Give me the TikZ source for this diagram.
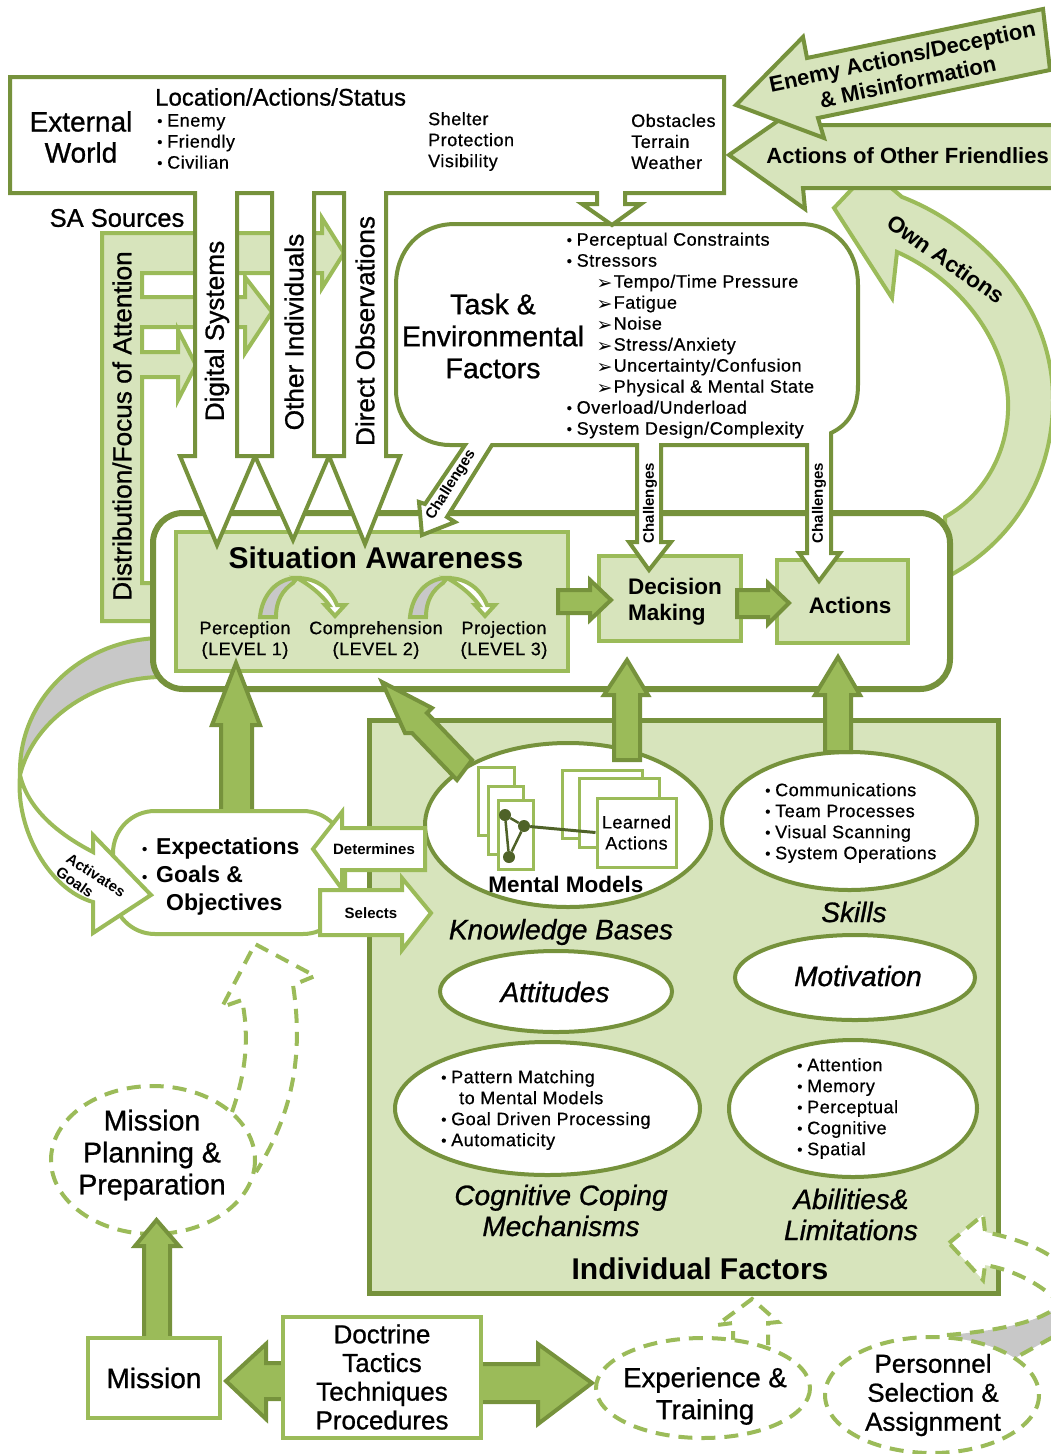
\documentclass[tikz,border=0pt]{standalone}
\usepackage{fontspec}
\setmainfont{Liberation Sans}
\newfontfamily\bodyf[LetterSpace=3,FakeBold=0.6]{Liberation Sans}
\newfontfamily\medf[FakeBold=0.9]{Liberation Sans}
\newfontfamily\djfont{DejaVu Sans}
\definecolor{myDark}{HTML}{76923C}
\definecolor{myLight}{HTML}{9BBB59}
\definecolor{myFill}{HTML}{D7E4BC}
\definecolor{myGray}{HTML}{C8C8C8}
\definecolor{myNode}{HTML}{4F6228}
\newcommand\blt{\makebox[10pt][l]{\smash{\raisebox{0.5pt}{\fontsize{15}{15}\selectfont\textbullet}}}}
\newcommand\arw{\makebox[17pt][l]{\smash{\raisebox{-2pt}{\djfont\fontsize{19}{19}\selectfont ➢}}}}
\tikzset{
  dk/.style={draw=myDark,line width=5pt,miter limit=20},
  dkframe/.style={draw=myDark,line width=6pt},
  dkthin/.style={draw=myDark,line width=4pt,miter limit=20},
  lt/.style={draw=myLight,line width=4pt,miter limit=20},
  ltfill/.style={lt,fill=myFill},
  ltwhite/.style={lt,fill=white},
  solidarrow/.style={dkthin,fill=myLight},
  dashbox/.style={draw=myLight,line width=4pt,dash pattern=on 14pt off 9pt,miter limit=20},
  lbl/.style={inner sep=0pt,align=center},
  body/.style={lbl,font=\bodyf\fontsize{18}{21}\selectfont,align=left},
  smallb/.style={lbl,font=\bfseries\fontsize{15}{17}\selectfont},
  sideb/.style={lbl,font=\medf\fontsize{26.2}{28}\selectfont,rotate=90},
  big/.style={lbl,font=\medf\fontsize{27}{31}\selectfont},
  ital/.style={lbl,font=\itshape\medf\fontsize{28}{31}\selectfont},
  boldm/.style={lbl,font=\bfseries\fontsize{22.5}{26}\selectfont},
  titleb/.style={lbl,font=\bfseries\fontsize{30}{34}\selectfont},
}
\begin{document}
\begin{tikzpicture}[x=1pt,y=-1pt]
\useasboundingbox (0,0) rectangle (1051,1454);
% attention arrow
\path[ltfill] (102,233) -- (322,233) -- (322,218) -- (344,253) -- (322,288) -- (322,273) -- (142,273) -- (142,297) -- (245,297) -- (245,277) -- (272,312) -- (245,353) -- (245,327) -- (142,327) -- (142,352) -- (178,352) -- (178,330) -- (196,365) -- (178,400) -- (178,377) -- (142,377) -- (142,583) -- (156,583) -- (156,621) -- (102,621) -- cycle;
% own actions
\path[ltfill] (945,517) .. controls (985,495) and (1010,450) .. (1008,400) .. controls (1005,340) and (960,280) .. (897,252) -- (892,298) -- (834,208) -- (870,170) -- (902,197) .. controls (975,225) and (1053,300) .. (1053,400) .. controls (1053,480) and (1010,545) .. (945,578) -- cycle;
% other actions
\path[dkthin,fill=myFill] (729,155) -- (805,102) -- (803,125) -- (1056,125) -- (1056,188) -- (803,188) -- (805,209) -- cycle;
\path[dkthin,fill=myFill] (736,105) -- (803,37) -- (807,58) -- (1043,9) -- (1050,70) -- (818,118) -- (824,138) -- cycle;
% goals ribbon, gray part
\path[lt,fill=myGray] (160,638) .. controls (80,640) and (18,700) .. (20,775) .. controls (35,715) and (100,678) .. (160,677) -- cycle;
% SA frame
\path[dkframe,fill=white,rounded corners=30pt] (153,513) rectangle (950,689);
% SA block
\path[ltfill] (176,532) rectangle (568,671);
\path[ltfill] (599,556) rectangle (741,641);
\path[ltfill] (777,560) rectangle (908,643);
% level arrows
\foreach \dx in {0,150}{
  \path[lt,fill=myGray] ([xshift=\dx]260,617) .. controls ([xshift=\dx]262,595) and ([xshift=\dx]277,578) .. ([xshift=\dx]297,578) -- ([xshift=\dx]293,583) .. controls ([xshift=\dx]283,590) and ([xshift=\dx]276,600) .. ([xshift=\dx]276,617) -- cycle;
  \path[lt,fill=white] ([xshift=\dx]297,578) .. controls ([xshift=\dx]318,578) and ([xshift=\dx]331,590) .. ([xshift=\dx]337,605) -- ([xshift=\dx]345,605) -- ([xshift=\dx]335,616) -- ([xshift=\dx]325,605) -- ([xshift=\dx]329,605) .. controls ([xshift=\dx]322,595) and ([xshift=\dx]310,585) .. ([xshift=\dx]297,578) -- cycle;
}
% arrows between blocks
\path[solidarrow] (558,590) -- (590,590) -- (590,580) -- (611,600) -- (590,620) -- (590,613) -- (558,613) -- cycle;
\path[solidarrow] (737,590) -- (768,590) -- (768,583) -- (789,603) -- (768,624) -- (768,617) -- (737,617) -- cycle;
% task box with challenge arrows
\path[dkthin,fill=white] (465,445) -- (450,445) .. controls (418,445) and (396,420) .. (396,390) -- (396,285) .. controls (396,250) and (420,224) .. (455,224) -- (800,224) .. controls (835,224) and (858,250) .. (858,285) -- (858,385) .. controls (858,410) and (848,425) .. (831,433) -- (831,553) -- (840,553) -- (819,581) -- (799,553) -- (807,553) -- (807,445) -- (661,445) -- (661,542) -- (671,542) -- (649,570) -- (629,542) -- (637,542) -- (637,445) -- (492,445) -- (447,517) -- (455,522) -- (422,535) -- (419,502) -- (425,504) -- cycle;
% external world with source arrows
\path[dkthin,fill=white] (10,77) -- (724,77) -- (724,193) -- (625,193) -- (625,204) -- (641,204) -- (612,225) -- (582,204) -- (597,204) -- (597,193) -- (386,193) -- (386,456) -- (400,456) -- (365,544) -- (329,456) -- (344,456) -- (344,193) -- (314,193) -- (314,456) -- (329,456) -- (293,540) -- (255,456) -- (272,456) -- (272,193) -- (237,193) -- (237,456) -- (255,456) -- (217,545) -- (180,456) -- (195,456) -- (195,193) -- (10,193) -- cycle;
% individual factors
\path[dk,fill=myFill] (369,720) rectangle (998,1293);
% ellipses
\path[dkthin,fill=white] (568,825) ellipse [x radius=143,y radius=82];
\path[dkthin,fill=white] (849.5,821) ellipse [x radius=127.5,y radius=69];
\path[dkthin,fill=white] (556,991.5) ellipse [x radius=116,y radius=40.5];
\path[dkthin,fill=white] (855,977.5) ellipse [x radius=120,y radius=42.5];
\path[dkthin,fill=white] (547.5,1108.5) ellipse [x radius=152.5,y radius=66.5];
\path[dkthin,fill=white] (853,1108.5) ellipse [x radius=124,y radius=68.5];
\path[solidarrow] (221,812) -- (221,725) -- (212,725) -- (236,663) -- (260,725) -- (252,725) -- (252,812) -- cycle;
\path[solidarrow] (457,780) -- (412,733) -- (405,733) -- (382,682) -- (432,708) -- (427,713) -- (472,760) -- cycle;
\path[solidarrow] (614,760) -- (614,695) -- (604,695) -- (627,660) -- (648,695) -- (640,695) -- (640,760) -- cycle;
\path[solidarrow] (825,752) -- (825,695) -- (815,695) -- (838,657) -- (860,695) -- (851,695) -- (851,752) -- cycle;
% mental model sketch
\path[draw=myLight,line width=3pt,fill=white] (478,767) rectangle (514,835);
\path[draw=myLight,line width=3pt,fill=white] (488,786) rectangle (523,854);
\path[draw=myLight,line width=3pt,fill=white] (498,800) rectangle (533,869);
\path[draw=myLight,line width=3pt,fill=white] (562,770) rectangle (642,838);
\path[draw=myLight,line width=3pt,fill=white] (579,778) rectangle (659,847);
\node[draw=myLight,line width=3pt,fill=white,minimum width=79pt,minimum height=69pt,inner sep=0pt,align=center,font=\bodyf\fontsize{18}{21}\selectfont] (learned) at (636.5,832.5) {Learned\\Actions};
\node[circle,fill=myNode,minimum size=12pt,inner sep=0pt] (na) at (505,815) {};
\node[circle,fill=myNode,minimum size=12pt,inner sep=0pt] (nb) at (524,826) {};
\node[circle,fill=myNode,minimum size=12pt,inner sep=0pt] (nc) at (509,857) {};
\draw[myNode,line width=2.5pt] (na) -- (nb) -- (nc) -- (na);
\draw[myNode,line width=3pt] (nb) -- (learned.west);
% expectations
\path[ltwhite,rounded corners=42pt] (113,811) rectangle (345,934);
% goals ribbon, white part and head
\path[ltwhite] (20,775) .. controls (15,830) and (50,890) .. (93,902) -- (93,933) -- (151,895) -- (93,835) -- (93,852) .. controls (60,835) and (28,810) .. (20,775) -- cycle;
% determines, selects
\path[ltwhite] (313,849) -- (342,812) -- (342,828) -- (425,828) -- (425,870) -- (342,870) -- (342,889) -- cycle;
\path[ltwhite] (320,890) -- (402,890) -- (402,878) -- (431,913) -- (402,950) -- (402,935) -- (320,935) -- cycle;
% mission planning dashed
\path[dashbox] (232,1112) .. controls (245,1075) and (250,1040) .. (242,1000) -- (222,1007) -- (255,944) -- (315,976) -- (293,985) .. controls (303,1050) and (295,1110) .. (256,1172);
\path[dashbox,fill=white] (153,1160) ellipse [x radius=102,y radius=74];
% bottom row
\path[solidarrow] (144,1340) -- (144,1246) -- (135,1246) -- (156.5,1220) -- (179,1246) -- (170,1246) -- (170,1340) -- cycle;
\path[solidarrow] (285,1363) -- (266,1363) -- (266,1344) -- (226,1381) -- (266,1419) -- (266,1399) -- (285,1399) -- cycle;
\path[solidarrow] (480,1364) -- (538,1364) -- (538,1344) -- (592,1383) -- (538,1424) -- (538,1402) -- (480,1402) -- cycle;
\path[ltwhite] (88,1338) rectangle (220,1418);
\path[ltwhite] (283,1317) rectangle (481,1438);
% dashed small arrow
\path[dashbox] (733,1345) -- (733,1323) -- (717,1325) -- (752,1299) -- (778,1322) -- (768,1323) -- (768,1345);
\path[dashbox,fill=white] (703,1388) ellipse [x radius=107,y radius=50];
% personnel arrow
\path[fill=myGray] (947,1335) .. controls (985,1332) and (1030,1325) .. (1053,1310) -- (1053,1337) -- (1015,1358) -- (960,1340) -- cycle;
\path[dashbox,fill=white] (949,1243) -- (983,1215) -- (985,1232) .. controls (1015,1238) and (1040,1248) .. (1053,1258) -- (1053,1297) .. controls (1040,1285) and (1015,1270) .. (985,1265) -- (983,1280) -- cycle;
\path[dashbox] (947,1335) .. controls (985,1332) and (1030,1325) .. (1053,1310);
\path[dashbox] (1053,1337) -- (1015,1358);
\path[dashbox,fill=white] (932,1395) ellipse [x radius=107,y radius=58];
% texts: top
\node[big,align=center,font=\medf\fontsize{28}{31}\selectfont] (extw) at (81,137) {External\\World};
\node[lbl,anchor=west,font=\medf\fontsize{24}{26}\selectfont] (loc) at (155,97) {Location/Actions/Status};
\node[body,anchor=west] (l1) at (157,141.5) {\blt Enemy\\\blt Friendly\\\blt Civilian};
\node[body,anchor=west] (l2) at (428,141.5) {Shelter\\Protection\\Visibility};
\node[body,anchor=west] (l3) at (631,141.5) {Obstacles\\Terrain\\Weather};
\node[lbl,font=\medf\fontsize{25.5}{28}\selectfont] (sasrc) at (117,218) {SA Sources};
\node[sideb] (s0) at (122,426) {Distribution/Focus of Attention};
\node[sideb] (s1) at (217,331) {Digital Systems};
\node[sideb] (s2) at (294,332) {Other Individuals};
\node[sideb] (s3) at (365,331) {Direct Observations};
\node[lbl,font=\medf\fontsize{28.5}{32}\selectfont] (task) at (493,336) {Task \&\\Environmental\\Factors};
\node[body,anchor=west] (tasklist) at (566.5,335.5) {\blt Perceptual Constraints\\\blt Stressors\\\hspace*{30pt}\arw Tempo/Time Pressure\\\hspace*{30pt}\arw Fatigue\\\hspace*{30pt}\arw Noise\\\hspace*{30pt}\arw Stress/Anxiety\\\hspace*{30pt}\arw Uncertainty/Confusion\\\hspace*{30pt}\arw Physical \& Mental State\\\blt Overload/Underload\\\blt System Design/Complexity};
\node[boldm,rotate=12,font=\bfseries\fontsize{22}{26}\selectfont] (enemy) at (905,69) {Enemy Actions/Deception\\\& Misinformation};
\node[boldm,anchor=east,font=\bfseries\fontsize{22}{26}\selectfont] (friend) at (1049,156) {Actions of Other Friendlies};
\node[boldm,rotate=-35] (own) at (946,259) {Own Actions};
\node[smallb,rotate=58] (c1) at (451,485) {Challenges};
\node[smallb,rotate=90] (c2) at (650,503) {Challenges};
\node[smallb,rotate=90] (c3) at (819,503) {Challenges};
% SA texts
\node[titleb] (sa) at (376,558) {Situation Awareness};
\node[lbl,font=\bodyf\fontsize{18}{21}\selectfont] (p1) at (245,640) {Perception\\(LEVEL 1)};
\node[lbl,font=\bodyf\fontsize{18}{21}\selectfont] (p2) at (376,640) {Comprehension\\(LEVEL 2)};
\node[lbl,font=\bodyf\fontsize{18}{21}\selectfont] (p3) at (504,640) {Projection\\(LEVEL 3)};
\node[lbl,anchor=west,align=left,font=\bfseries\fontsize{22.5}{26}\selectfont] (dm) at (628,602) {Decision\\Making};
\node[boldm] (ac) at (850,605) {Actions};
% expectations
\node[lbl,anchor=west,align=left,font=\bfseries\fontsize{23}{28}\selectfont] (exp) at (142,877) {\makebox[14pt][l]{\blt}Expectations\\\makebox[14pt][l]{\blt}Goals \&\\\hspace*{24pt}Objectives};
\node[smallb,rotate=-33] (act) at (96,875) {Activates};
\node[smallb,rotate=-35] (goals) at (75,882) {Goals};
\node[smallb] (det) at (374,849) {Determines};
\node[smallb] (sel) at (371,913) {Selects};
% individual factors texts
\node[boldm] (mm) at (566,884) {Mental Models};
\node[body,anchor=west] (sk) at (765,823) {\blt Communications\\\blt Team Processes\\\blt Visual Scanning\\\blt System Operations};
\node[ital] (kb) at (561,932) {Knowledge Bases};
\node[ital] (skills) at (854,912) {Skills};
\node[ital] (att) at (555,992) {Attitudes};
\node[ital] (mot) at (858,976) {Motivation};
\node[body,anchor=west] (cog) at (441,1110) {\blt Pattern Matching\\\hspace*{18pt}to Mental Models\\\blt Goal Driven Processing\\\blt Automaticity};
\node[body,anchor=west] (abl) at (797,1108.5) {\blt Attention\\\blt Memory\\\blt Perceptual\\\blt Cognitive\\\blt Spatial};
\node[ital] (cc) at (561,1210.5) {Cognitive Coping\\Mechanisms};
\node[ital] (al) at (851,1214.5) {Abilities\&\\Limitations};
\node[titleb] (if) at (700,1269) {Individual Factors};
% bottom texts
\node[big,font=\medf\fontsize{28.5}{32}\selectfont] (mp) at (152,1155) {Mission\\Planning \&\\Preparation};
\node[big,font=\medf\fontsize{28}{31}\selectfont] (ms) at (154,1378) {Mission};
\node[big,font=\medf\fontsize{26}{28.7}\selectfont] (doc) at (382,1377) {Doctrine\\Tactics\\Techniques\\Procedures};
\node[big,font=\medf\fontsize{27.5}{32}\selectfont] (ex) at (705,1396) {Experience \&\\Training};
\node[big,font=\medf\fontsize{26}{29}\selectfont] (pe) at (933,1395) {Personnel\\Selection \&\\Assignment};
\end{tikzpicture}
\end{document}
